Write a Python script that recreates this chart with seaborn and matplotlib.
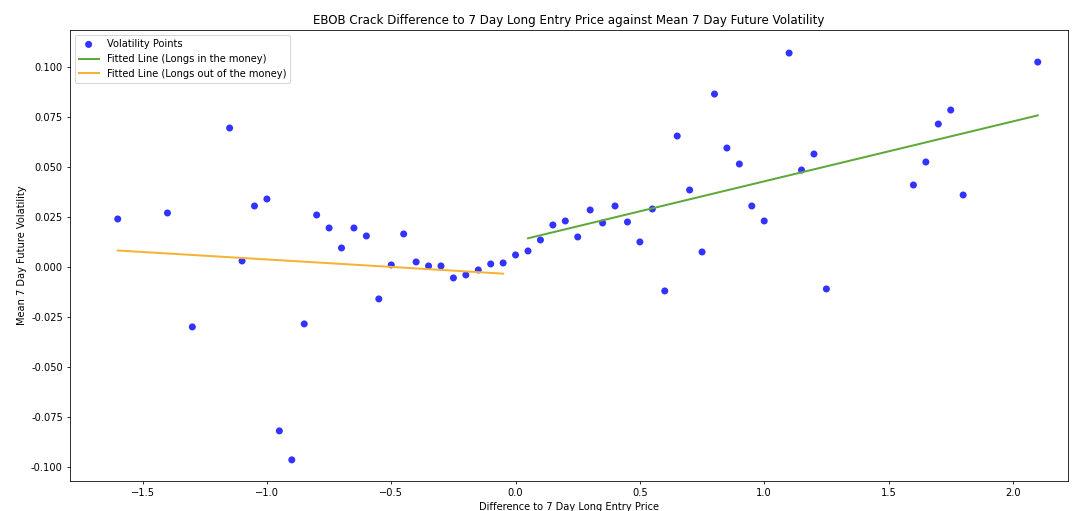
import numpy as np
import pandas as pd
import matplotlib.pyplot as plt
import matplotlib.ticker as mticker
import seaborn as sns

# values
price_diff = [-1.6, -1.4, -1.3, -1.15, -1.1, -1.05, -1.0, -0.95, -0.9, -0.85,
              -0.8, -0.75, -0.7, -0.65, -0.6, -0.55, -0.5, -0.45, -0.4, -0.35,
              -0.3, -0.25, -0.2, -0.15, -0.1, -0.05, 0.0, 0.05, 0.1, 0.15,
              0.2, 0.25, 0.3, 0.35, 0.4, 0.45, 0.5, 0.55, 0.6, 0.65,
              0.7, 0.75, 0.8, 0.85, 0.9, 0.95, 1.0, 1.1, 1.15, 1.2,
              1.25, 1.6, 1.65, 1.7, 1.75, 1.8, 2.1]
volatility = [0.024, 0.027, -0.030, 0.0695, 0.003, 0.0305, 0.034, -0.082, -0.0965, -0.0285,
              0.026, 0.0195, 0.0095, 0.0195, 0.0155, -0.016, 0.001, 0.0165, 0.0025, 0.0005,
              0.0005, -0.0055, -0.004, -0.0015, 0.0015, 0.002, 0.006, 0.008, 0.0135, 0.021,
              0.023, 0.015, 0.0285, 0.022, 0.0305, 0.0225, 0.0125, 0.029, -0.012, 0.0655,
              0.0385, 0.0075, 0.0865, 0.0595, 0.0515, 0.0305, 0.023, 0.107, 0.0485, 0.0565,
              -0.011, 0.041, 0.0525, 0.0715, 0.0785, 0.036, 0.1025]

df = pd.DataFrame({"diff": price_diff, "vol": volatility})
itm = df[df["diff"] > 0]
otm = df[df["diff"] < 0]

# linear fits for each side
m1, b1 = np.polyfit(itm["diff"], itm["vol"], 1)
m2, b2 = np.polyfit(otm["diff"], otm["vol"], 1)
fit_itm = pd.DataFrame({"x": itm["diff"], "y": m1 * itm["diff"] + b1})
fit_otm = pd.DataFrame({"x": otm["diff"], "y": m2 * otm["diff"] + b2})

fig, ax = plt.subplots(figsize=(15, 7.145), dpi=71.53)
sns.scatterplot(data=df, x="diff", y="vol", color="blue", alpha=0.8, s=50,
                edgecolor="none", label="Volatility Points", ax=ax)
sns.lineplot(data=fit_itm, x="x", y="y", color="#5ea83a", lw=2,
             label="Fitted Line (Longs in the money)", ax=ax)
sns.lineplot(data=fit_otm, x="x", y="y", color="#f5b233", lw=2,
             label="Fitted Line (Longs out of the money)", ax=ax)

ax.set_xlim(-1.793, 2.22)
ax.set_ylim(-0.107, 0.1185)
ax.yaxis.set_major_locator(mticker.MultipleLocator(0.025))
ax.yaxis.set_major_formatter(mticker.FormatStrFormatter("%.3f"))
ax.set_title("EBOB Crack Difference to 7 Day Long Entry Price against Mean 7 Day Future Volatility")
ax.set_xlabel("Difference to 7 Day Long Entry Price")
ax.set_ylabel("Mean 7 Day Future Volatility")
ax.legend(loc="upper left")

plt.subplots_adjust(left=0.065, right=0.995, top=0.941, bottom=0.059)
plt.savefig("out.png")
